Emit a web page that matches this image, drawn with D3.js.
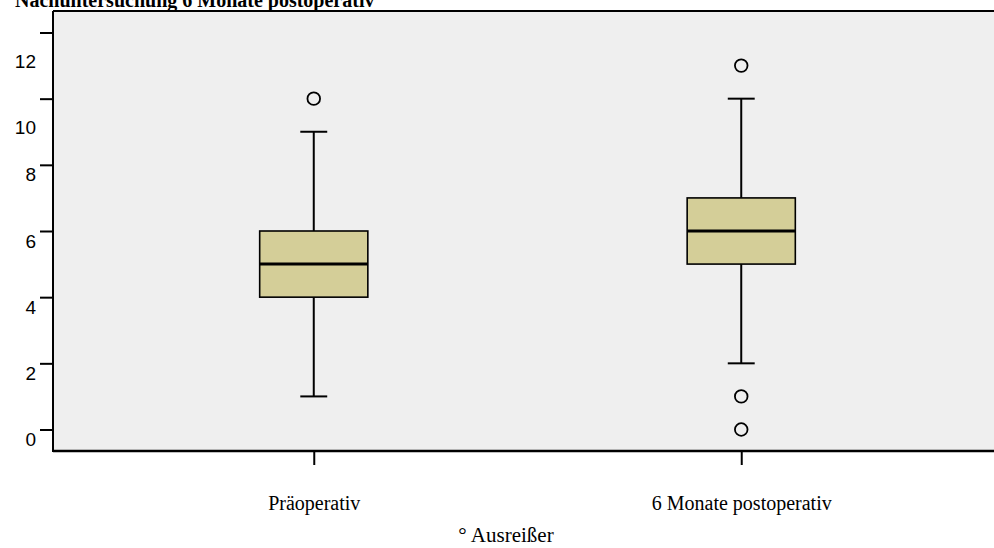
<!DOCTYPE html>
<html>
<head>
<meta charset="utf-8">
<script src="https://cdn.jsdelivr.net/npm/d3@7"></script>
<style>
  body { margin: 0; background: #fff; }
  svg { display: block; }
</style>
</head>
<body>
<svg id="chart" width="994" height="548"></svg>
<script>
// Boxplot-Werte je Gruppe
const groups = ["Präoperativ", "6 Monate postoperativ"];
const whiskerLow = [1, 2];
const q1 = [4, 5];
const median = [5, 6];
const q3 = [6, 7];
const whiskerHigh = [9, 10];
const outliers = [[10], [11, 1, 0]];
const yTicks = [0, 2, 4, 6, 8, 10, 12];

const svg = d3.select("#chart");
const plotLeft = 53, plotTop = 11, plotBottom = 451, plotRight = 1002;

const x = d3.scalePoint().domain(groups).range([plotLeft, plotRight]).padding(0.61);
const y = d3.scaleLinear().domain([-0.65, 12.65]).range([plotBottom, plotTop]);

const boxW = x.step() * 0.253;
const capW = x.step() * 0.063;

// Hintergrund
svg.append("rect")
    .attr("x", plotLeft).attr("y", plotTop)
    .attr("width", plotRight - plotLeft).attr("height", plotBottom - plotTop)
    .attr("fill", "#efefef");

// Titel (oben abgeschnitten)
svg.append("text")
    .attr("x", 15).attr("y", 7)
    .attr("font-family", "'Liberation Serif', 'Times New Roman', serif")
    .attr("font-weight", "bold")
    .attr("font-size", 20)
    .text("Nachuntersuchung 6 Monate postoperativ");

const data = groups.map((g, i) => ({
    name: g, lo: whiskerLow[i], q1: q1[i], med: median[i], q3: q3[i], hi: whiskerHigh[i], out: outliers[i]
}));

const box = svg.append("g").selectAll("g")
    .data(data)
    .enter().append("g")
    .attr("transform", d => `translate(${x(d.name)},0)`);

// Whisker
box.append("line")
    .attr("x1", 0).attr("x2", 0)
    .attr("y1", d => y(d.hi)).attr("y2", d => y(d.q3))
    .attr("stroke", "#000").attr("stroke-width", 2);
box.append("line")
    .attr("x1", 0).attr("x2", 0)
    .attr("y1", d => y(d.q1)).attr("y2", d => y(d.lo))
    .attr("stroke", "#000").attr("stroke-width", 2);
box.selectAll(".cap")
    .data(d => [d.lo, d.hi])
    .enter().append("line")
    .attr("class", "cap")
    .attr("x1", -capW / 2).attr("x2", capW / 2)
    .attr("y1", v => y(v)).attr("y2", v => y(v))
    .attr("stroke", "#000").attr("stroke-width", 2);

box.append("rect")
    .attr("x", -boxW / 2).attr("width", boxW)
    .attr("y", d => y(d.q3)).attr("height", d => y(d.q1) - y(d.q3))
    .attr("fill", "#d4ce98")
    .attr("stroke", "#000").attr("stroke-width", 1.6);

box.append("line")
    .attr("x1", -boxW / 2).attr("x2", boxW / 2)
    .attr("y1", d => y(d.med)).attr("y2", d => y(d.med))
    .attr("stroke", "#000").attr("stroke-width", 3);

box.selectAll(".out")
    .data(d => d.out)
    .enter().append("circle")
    .attr("class", "out")
    .attr("cx", 0).attr("cy", v => y(v))
    .attr("r", 6.3)
    .attr("fill", "none")
    .attr("stroke", "#000").attr("stroke-width", 1.8);

// Y-Achse
const yAxis = svg.append("g")
    .attr("transform", `translate(${plotLeft},0)`)
    .call(d3.axisLeft(y).tickValues(yTicks).tickSize(13).tickPadding(4).tickSizeOuter(0));
yAxis.select(".domain").remove();
yAxis.selectAll(".tick line").attr("stroke", "#000").attr("stroke-width", 2);
yAxis.selectAll(".tick text")
    .attr("font-family", "'Liberation Sans', Arial, sans-serif")
    .attr("font-size", 19)
    .attr("fill", "#000")
    .attr("dy", d => d >= 10 ? "1.85em" : "0.85em");

// X-Achse
const xAxis = svg.append("g")
    .attr("transform", `translate(0,${plotBottom})`)
    .call(d3.axisBottom(x).tickSize(14).tickPadding(31).tickSizeOuter(0));
xAxis.select(".domain").remove();
xAxis.selectAll(".tick line").attr("stroke", "#000").attr("stroke-width", 2);
xAxis.selectAll(".tick text")
    .attr("font-family", "'Liberation Serif', 'Times New Roman', serif")
    .attr("font-size", 20)
    .attr("fill", "#000");

// Rahmenlinien
svg.append("line")
    .attr("x1", plotLeft).attr("x2", plotRight).attr("y1", plotTop).attr("y2", plotTop)
    .attr("stroke", "#000").attr("stroke-width", 2);
svg.append("line")
    .attr("x1", plotLeft).attr("x2", plotRight).attr("y1", plotBottom).attr("y2", plotBottom)
    .attr("stroke", "#000").attr("stroke-width", 2.5);
svg.append("line")
    .attr("x1", plotLeft).attr("x2", plotLeft).attr("y1", plotTop).attr("y2", plotBottom + 1)
    .attr("stroke", "#000").attr("stroke-width", 2);

// Legende
svg.append("text")
    .attr("x", 506).attr("y", 542)
    .attr("text-anchor", "middle")
    .attr("font-family", "'Liberation Serif', 'Times New Roman', serif")
    .attr("font-size", 21)
    .text("° Ausreißer");
</script>
</body>
</html>
